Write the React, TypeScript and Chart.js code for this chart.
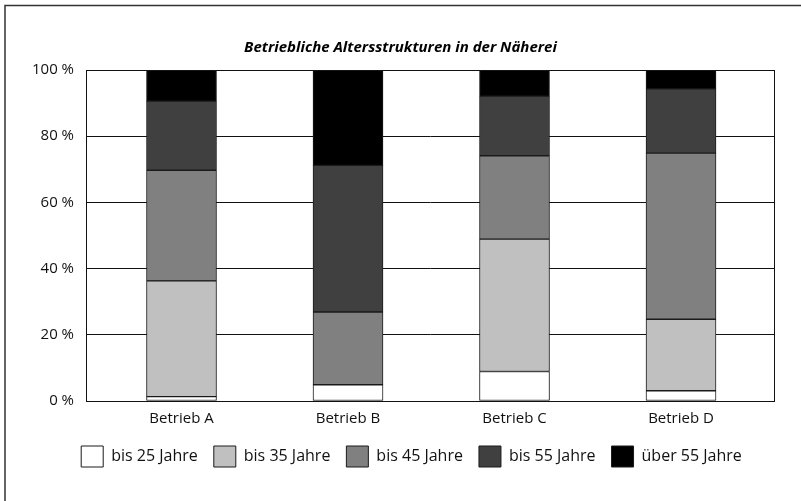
import React, { useEffect, useRef } from "react";
import { Chart, registerables } from "chart.js";

Chart.register(...registerables);

const categories = ["Betrieb A", "Betrieb B", "Betrieb C", "Betrieb D"];
const seriesNames = ["bis 25 Jahre", "bis 35 Jahre", "bis 45 Jahre", "bis 55 Jahre", "über 55 Jahre"];
const bis25 = [1.3, 4.9, 8.9, 3.1];
const bis35 = [35.0, 0, 40.0, 21.6];
const bis45 = [33.4, 22.0, 25.2, 50.2];
const bis55 = [20.9, 44.3, 18.0, 19.4];
const ueber55 = [9.4, 28.8, 7.9, 5.7];
const yTicks = [0, 20, 40, 60, 80, 100];
const colors = ["#ffffff", "#c0c0c0", "#808080", "#404040", "#000000"];

const FONT = "'Open Sans', 'Noto Sans', sans-serif";

export default function App() {
  const ref = useRef<HTMLCanvasElement | null>(null);

  useEffect(() => {
    document.body.style.margin = "0";
    const canvas = ref.current;
    if (!canvas) return;
    const series = [bis25, bis35, bis45, bis55, ueber55];

    const framePlugin = {
      id: "frame",
      afterLayout(chart: any) {
        const lg = chart.legend;
        if (lg) {
          lg.left += 11;
          lg.right += 11;
        }
      },
      beforeDraw(chart: any) {
        const ctx = chart.ctx;
        ctx.save();
        ctx.fillStyle = "#ffffff";
        ctx.fillRect(0, 0, chart.width, chart.height);
        ctx.strokeStyle = "#333333";
        ctx.lineWidth = 1.5;
        ctx.beginPath();
        ctx.moveTo(5, chart.height + 2);
        ctx.lineTo(5, 5.5);
        ctx.lineTo(chart.width + 2, 5.5);
        ctx.stroke();
        ctx.restore();
      },
      beforeDatasetsDraw(chart: any) {
        const { ctx, chartArea } = chart;
        ctx.save();
        ctx.strokeStyle = "#111111";
        ctx.lineWidth = 1;
        ctx.strokeRect(
          Math.round(chartArea.left) + 0.5,
          Math.round(chartArea.top) + 0.5,
          Math.round(chartArea.right - chartArea.left) - 1,
          Math.round(chartArea.bottom - chartArea.top)
        );
        ctx.restore();
      },
    };

    const chart = new Chart(canvas, {
      type: "bar",
      data: {
        datasets: series.map((vals, si) => ({
          label: seriesNames[si],
          data: vals.map((v, i) => ({ x: i + 1, y: v })),
          backgroundColor: colors[si],
          borderColor: "#1a1a1a",
          borderWidth: 1,
          borderSkipped: false,
          barThickness: 70,
        })),
      },
      options: {
        responsive: false,
        animation: false,
        layout: { padding: { left: 26, right: 26, top: 0, bottom: 24 } },
        plugins: {
          title: {
            display: true,
            text: "Betriebliche Altersstrukturen in der Näherei",
            color: "#000",
            font: { family: FONT, size: 15, weight: "bold", style: "italic" },
            padding: { top: 39, bottom: 13 },
          },
          legend: {
            position: "bottom",
            labels: {
              boxWidth: 22,
              boxHeight: 21,
              padding: 16,
              color: "#111",
              font: { family: FONT, size: 16 },
            },
          },
          tooltip: { enabled: false },
        },
        scales: {
          x: {
            type: "linear",
            stacked: true,
            offset: false,
            min: 0.4264,
            max: 4.5645,
            grid: { display: false, drawTicks: false, offset: false },
            border: { display: false },
            afterBuildTicks: (scale: any) => {
              scale.ticks = categories.map((_, i) => ({ value: i + 1 }));
            },
            afterFit: (scale: any) => {
              scale.height = 29;
            },
            ticks: {
              padding: 9,
              color: "#111",
              font: { family: FONT, size: 15 },
              callback: (v: any) => categories[Math.round(Number(v)) - 1] ?? "",
              maxRotation: 0,
              autoSkip: false,
            },
          },
          y: {
            stacked: true,
            min: 0,
            max: 100,
            afterBuildTicks: (scale: any) => {
              scale.ticks = yTicks.map((v) => ({ value: v }));
            },
            afterFit: (scale: any) => {
              scale.width = 60;
            },
            grid: { color: "#111", lineWidth: 1, drawTicks: false },
            border: { display: false },
            ticks: {
              padding: 12,
              color: "#111",
              font: { family: FONT, size: 15 },
              callback: (v: any) => `${v} %`,
            },
          },
        },
      },
      plugins: [framePlugin],
    });

    return () => chart.destroy();
  }, []);

  return (
    <canvas ref={ref} width={801} height={501} style={{ display: "block", width: 801, height: 501 }} />
  );
}
